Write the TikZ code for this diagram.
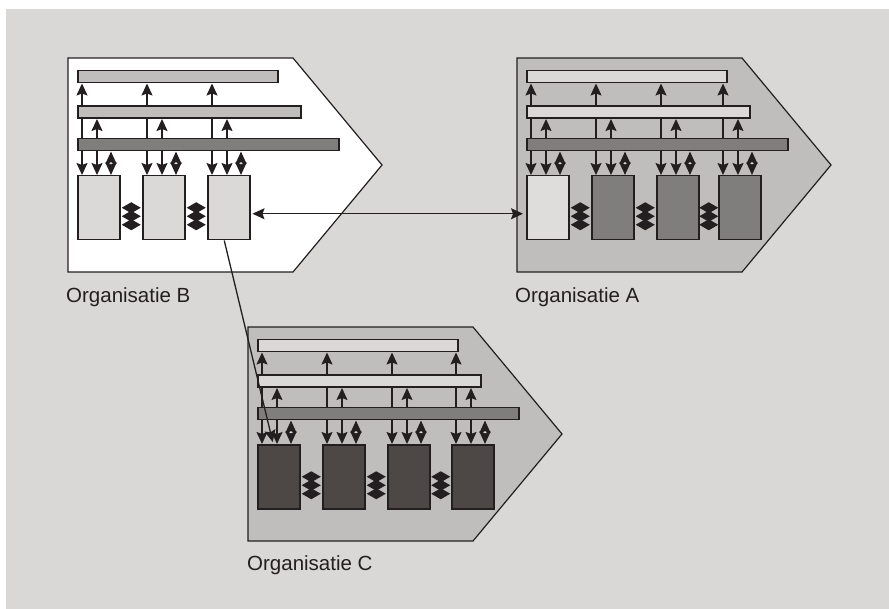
\documentclass[tikz,border=0pt]{standalone}
\usepackage{fontspec}
\setmainfont{Liberation Sans}
\usetikzlibrary{arrows.meta,calc}
\definecolor{ink}{HTML}{231F20}
\definecolor{bgc}{HTML}{D9D8D7}
\definecolor{penc}{HTML}{BFBEBD}
\definecolor{lightc}{HTML}{DAD9D8}
\definecolor{midc}{HTML}{BFBEBD}
\definecolor{darkbar}{HTML}{807E7D}
\definecolor{boxdark}{HTML}{4D4846}
\definecolor{boxlight}{HTML}{DEDDDC}
\pgfdeclarelayer{pentlayer}
\pgfdeclarelayer{linelayer}
\pgfsetlayers{pentlayer,linelayer,main}
\tikzset{
  headtip/.tip={Stealth[length=12pt,width=11pt,inset=2pt]},
  dbltip/.tip={Triangle[length=12.5pt,width=11pt]},
  conn/.style={draw=ink,line width=1.3pt},
  dbl/.style={draw=ink,line width=1.3pt,{dbltip}-{dbltip}},
  pent/.style={draw=ink,line width=1.2pt,line join=miter},
  barbox/.style={draw=ink,line width=1.5pt,inner sep=0pt,minimum height=12pt,anchor=north west},
  unitbox/.style={draw=ink,line width=1.5pt,inner sep=0pt,minimum width=42pt,minimum height=64pt,anchor=north west},
  lab/.style={inner sep=0pt,anchor=base west,text=ink,font=\fontsize{20.5}{24}\selectfont},
  zigstack/.pic={
    \foreach \d in {0,8.5,17}{
      \fill[ink] (0,\d-5.5) -- (9.5,\d) -- (0,\d+5.5) -- (-9.5,\d) -- cycle;
    }
  }
}
% #1 name, #2 x0, #3 y0, #4 pentagon fill, #5 upper bar fill, #6 list offset/fill
\newcommand\orgunit[6]{%
  \begin{scope}[shift={(#2,#3)}]
    \begin{pgfonlayer}{pentlayer}
      \draw[pent,fill=#4] (0,0) -- (225,0) -- (314,107) -- (225,214) -- (0,214) -- cycle;
    \end{pgfonlayer}
    \node[barbox,fill=#5,minimum width=200pt] (#1bar1) at (9,12) {};
    \node[barbox,fill=#5,minimum width=223pt] (#1bar2) at (9,47.5) {};
    \node[barbox,fill=darkbar,minimum width=261pt] (#1bar3) at (9,80) {};
    \foreach \o/\f [count=\i] in {#6}{
      \node[unitbox,fill=\f] (#1box\i) at (9+\o,117) {};
      \begin{pgfonlayer}{linelayer}
        \draw[conn,-{headtip}] ([xshift=5pt]#1box\i.north west |- #1bar3.north) -- ([xshift=5pt]#1box\i.north west |- #1bar1.south);
        \draw[conn,-{headtip}] ([xshift=20pt]#1box\i.north west |- #1bar3.north) -- ([xshift=20pt]#1box\i.north west |- #1bar2.south);
      \end{pgfonlayer}
      \draw[conn,-{headtip}] ([xshift=5pt]#1box\i.north west |- #1bar3.south) -- ([xshift=5pt]#1box\i.north west);
      \draw[conn,-{headtip}] ([xshift=20pt]#1box\i.north west |- #1bar3.south) -- ([xshift=20pt]#1box\i.north west);
      \draw[dbl] ([xshift=34pt]#1box\i.north west |- #1bar3.south) -- ([xshift=34pt]#1box\i.north west);
      \fill[lightc] ($([xshift=34pt]#1box\i.north west |- #1bar3.south)!0.5!([xshift=34pt]#1box\i.north west)$) ellipse [x radius=1.8pt, y radius=1.1pt];
    }
  \end{scope}
}
\begin{document}
\begin{tikzpicture}[x=1pt,y=-1pt]
  \useasboundingbox (0,0) rectangle (889,609);
  \begin{pgfonlayer}{pentlayer}
    \fill[white] (0,0) rectangle (889,609);
    \fill[bgc] (6,9) rectangle (889,609);
  \end{pgfonlayer}

  \orgunit{B}{68}{58}{white}{midc}{0/lightc,65/lightc,130/lightc}
  \orgunit{A}{517}{58}{penc}{lightc}{0/boxlight,65/darkbar,130/darkbar,192/darkbar}
  \orgunit{C}{248}{327}{penc}{lightc}{0/boxdark,65/boxdark,130/boxdark,194/boxdark}

  % diamond stacks
  \pic at ($(Bbox1.east)!0.5!(Bbox2.west)$) {zigstack};
  \pic at ($(Bbox2.east)!0.5!(Bbox3.west)$) {zigstack};
  \pic at ($(Abox1.east)!0.5!(Abox2.west)$) {zigstack};
  \pic at ($(Abox2.east)!0.5!(Abox3.west)$) {zigstack};
  \pic at ($(Abox3.east)!0.5!(Abox4.west)$) {zigstack};
  \pic at ($(Cbox1.east)!0.5!(Cbox2.west)$) {zigstack};
  \pic at ($(Cbox2.east)!0.5!(Cbox3.west)$) {zigstack};
  \pic at ($(Cbox3.east)!0.5!(Cbox4.west)$) {zigstack};

  % labels
  \node[lab] (labB) at (66,303) {Organisatie B};
  \node[lab] (labA) at (515,303) {Organisatie A};
  \node[lab] (labC) at (247,570) {Organisatie C};

  % connectors between organisations
  \draw[conn,{headtip}-{headtip},shorten <=2pt,shorten >=3pt] ([yshift=-6pt]Bbox3.east) -- ([yshift=-6pt]Abox1.west);
  \draw[conn,-{headtip},shorten >=2pt] ([xshift=-4.5pt]Bbox3.south) -- ([xshift=-5.5pt]Cbox1.north);
\end{tikzpicture}
\end{document}
